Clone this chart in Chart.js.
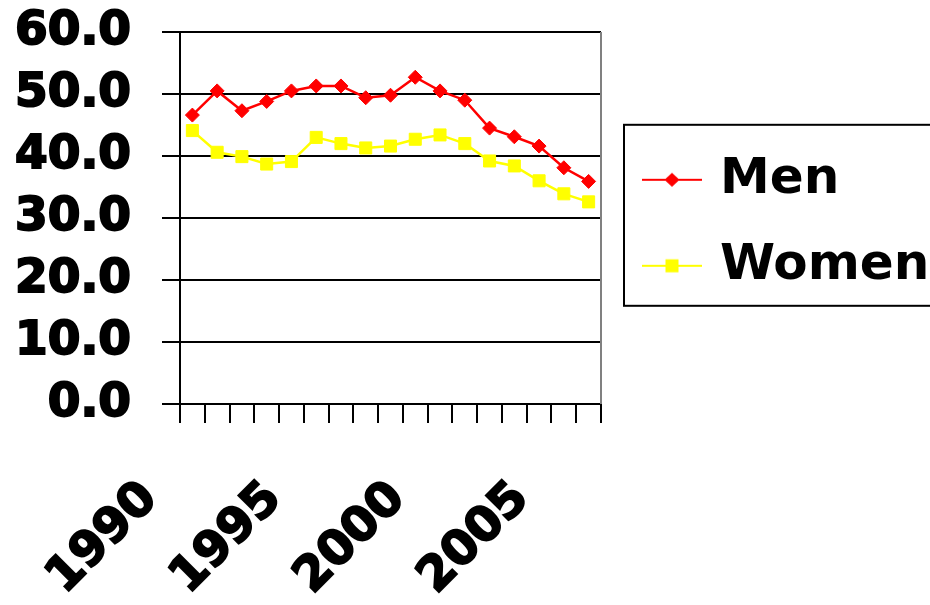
<!DOCTYPE html>
<html>
<head>
<meta charset="utf-8">
<script src="https://cdn.jsdelivr.net/npm/chart.js@4/dist/chart.umd.min.js"></script>
<style>
  html, body { margin: 0; padding: 0; background: #ffffff; }
  #wrap { position: relative; width: 930px; height: 605px; }
</style>
</head>
<body>
<div id="wrap"><canvas id="c" width="930" height="605"></canvas></div>
<script>
const years = ['1990','1991','1992','1993','1994','1995','1996','1997','1998','1999','2000','2001','2002','2003','2004','2005','2006'];
const shownYears = ['1990','1995','2000','2005'];
const men   = [46.6, 50.5, 47.3, 48.8, 50.5, 51.3, 51.3, 49.4, 49.8, 52.7, 50.5, 49.0, 44.5, 43.1, 41.6, 38.1, 35.9];
const women = [44.1, 40.6, 39.9, 38.7, 39.1, 43.0, 42.0, 41.3, 41.6, 42.7, 43.4, 42.0, 39.2, 38.4, 36.0, 33.9, 32.6];
const yTicks = [0, 10, 20, 30, 40, 50, 60];

const FONT = "'DejaVu Sans', 'Liberation Sans', sans-serif";

function legendSample(color, shape) {
  const cv = document.createElement('canvas');
  cv.width = 72; cv.height = 20;
  const g = cv.getContext('2d');
  g.strokeStyle = color; g.lineWidth = 2;
  g.beginPath(); g.moveTo(12, 10); g.lineTo(72, 10); g.stroke();
  g.fillStyle = color;
  g.beginPath();
  if (shape === 'diamond') {
    g.moveTo(42 - 7.5, 10); g.lineTo(42, 3); g.lineTo(42 + 7.5, 10); g.lineTo(42, 17); g.closePath();
  } else {
    g.rect(42 - 6.5, 10 - 6.5, 13, 13);
  }
  g.fill();
  return cv;
}
const samples = [legendSample('#FF0000', 'diamond'), legendSample('#FFFF00', 'square')];

const frame = {
  id: 'frame',
  afterDraw(chart) {
    const ctx = chart.ctx, a = chart.chartArea, lg = chart.legend;
    ctx.save();
    ctx.strokeStyle = '#808080'; ctx.lineWidth = 2;
    ctx.beginPath(); ctx.moveTo(a.right, a.top); ctx.lineTo(a.right, a.bottom); ctx.stroke();
    if (lg && lg.legendHitBoxes && lg.legendHitBoxes.length) {
      const hb = lg.legendHitBoxes;
      const top = hb[0].top - 30;
      const bottom = hb[hb.length - 1].top + 65;
      ctx.strokeStyle = '#000000'; ctx.lineWidth = 2;
      ctx.strokeRect(lg.left + 23, top, 340, bottom - top);
    }
    ctx.restore();
  }
};

new Chart(document.getElementById('c'), {
  type: 'line',
  data: {
    labels: years,
    datasets: [
      { label: 'Men', data: men, borderColor: '#FF0000', backgroundColor: '#FF0000',
        borderWidth: 2.5, pointStyle: 'rectRot', pointRadius: 7, pointBorderWidth: 1,
        pointBackgroundColor: '#FF0000', pointBorderColor: '#FF0000', tension: 0 },
      { label: 'Women', data: women, borderColor: '#FFFF00', backgroundColor: '#FFFF00',
        borderWidth: 2.5, pointStyle: 'rect', pointRadius: 8.5, pointBorderWidth: 1,
        pointBackgroundColor: '#FFFF00', pointBorderColor: '#FFFF00', tension: 0 }
    ]
  },
  options: {
    responsive: false,
    animation: false,
    devicePixelRatio: 1,
    layout: { padding: { top: 32, left: 0, right: 0, bottom: 0 } },
    plugins: {
      tooltip: { enabled: false },
      legend: {
        position: 'right',
        align: 'center',
        fullSize: false,
        maxWidth: 329,
        title: { display: true, text: ' ', padding: 0, font: { size: 8 } },
        labels: {
          color: '#000000',
          font: { family: FONT, size: 50, weight: 'bold' },
          usePointStyle: true,
          pointStyleWidth: 58,
          padding: 36,
          generateLabels(chart) {
            const items = Chart.defaults.plugins.legend.labels.generateLabels(chart);
            items.forEach((it, i) => { it.pointStyle = samples[i]; });
            return items;
          }
        }
      }
    },
    scales: {
      x: {
        type: 'category',
        offset: true,
        grid: { offset: true, drawOnChartArea: false, drawTicks: true, tickLength: 19, color: '#000000', lineWidth: 2 },
        border: { display: true, color: '#000000', width: 2 },
        ticks: {
          autoSkip: false,
          minRotation: 45, maxRotation: 45,
          padding: 48,
          labelOffset: -42,
          color: '#000000',
          textStrokeColor: '#000000',
          textStrokeWidth: 2,
          font: { family: FONT, size: 48, weight: 'bold' },
          callback(value, index) {
            const l = years[index];
            return shownYears.includes(l) ? l : '';
          }
        },
        afterFit(scale) { scale.height = 201; scale.paddingLeft = 0; scale.paddingRight = 0; }
      },
      y: {
        min: 0, max: 60,
        afterBuildTicks(scale) { scale.ticks = yTicks.map(v => ({ value: v })); },
        grid: { color: '#000000', lineWidth: 2, tickLength: 18, drawTicks: true },
        border: { display: true, color: '#000000', width: 2 },
        ticks: {
          autoSkip: false,
          padding: 31,
          color: '#000000',
          textStrokeColor: '#000000',
          textStrokeWidth: 2,
          font: { family: FONT, size: 47, weight: 'bold' },
          callback(v) { return Number(v).toFixed(1); }
        },
        afterFit(scale) { scale.width = 180; scale.paddingTop = 0; scale.paddingBottom = 0; }
      }
    }
  },
  plugins: [frame]
});
</script>
</body>
</html>
